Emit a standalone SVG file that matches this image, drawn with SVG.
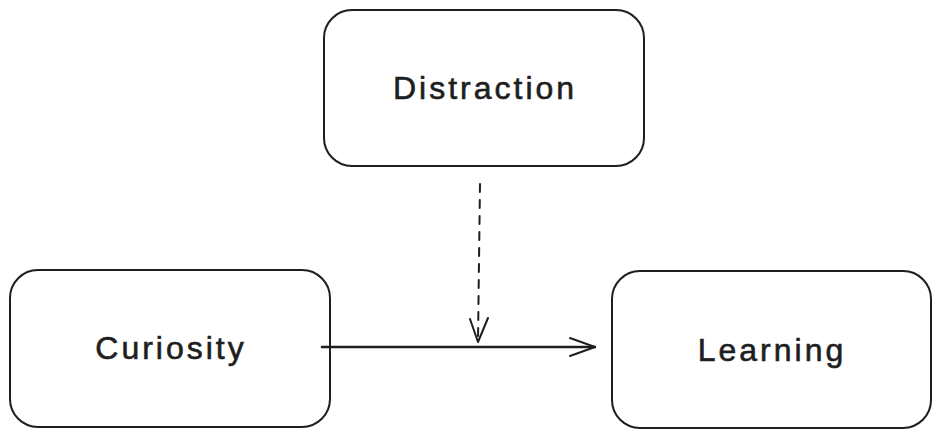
<svg xmlns="http://www.w3.org/2000/svg" width="941" height="438" viewBox="0 0 941 438">
  <defs>
    <style>
      .box { fill: #ffffff; stroke: #1e1e1e; stroke-width: 2; }
      .label { font-family: "Liberation Sans", "Open Sans", sans-serif; font-size: 32px; fill: #1e1e1e; stroke: #1e1e1e; stroke-width: 0.6px; text-anchor: middle; letter-spacing: 3px; }
      .edge { fill: none; stroke: #1e1e1e; stroke-width: 2; stroke-linecap: round; stroke-linejoin: round; }
      .dashed { stroke-dasharray: 8 8; }
    </style>
  </defs>
  <rect width="941" height="438" fill="#ffffff"/>
  <g id="node-distraction">
    <rect class="box" x="324" y="10" width="320" height="156" rx="28" ry="28"/>
    <text class="label" x="485" y="99">Distraction</text>
  </g>
  <g id="node-curiosity">
    <rect class="box" x="10" y="270" width="320" height="157" rx="28" ry="28"/>
    <text class="label" x="171" y="359">Curiosity</text>
  </g>
  <g id="node-learning">
    <rect class="box" x="612" y="271" width="319" height="157" rx="28" ry="28"/>
    <text class="label" x="772" y="361">Learning</text>
  </g>
  <g id="connectors">
    <path class="edge" d="M322 347 L595 347" style="stroke-width:2.5"/>
    <path class="edge" d="M570 338 L595 347 L570 356"/>
    <path class="edge dashed" d="M480 184 L478 340"/>
    <path class="edge" d="M470 319 L478 342 L488 318"/>
  </g>
</svg>
